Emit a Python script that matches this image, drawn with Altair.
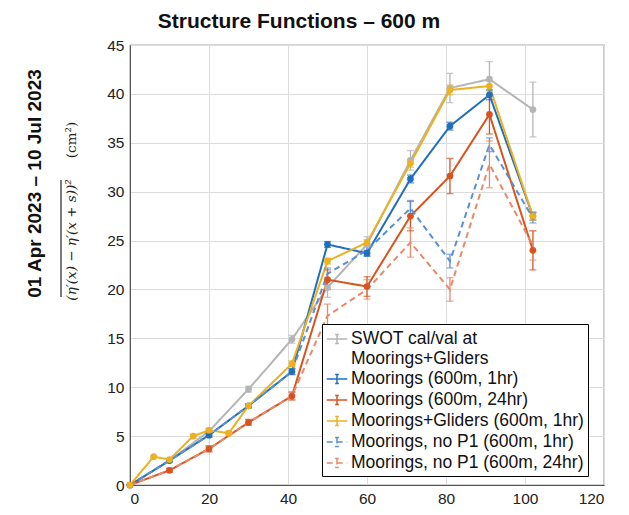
import altair as alt
import pandas as pd

# ---- data ----
x_moor = [0, 10, 20, 30, 41, 50, 60, 71, 81, 91, 102]
x_glid = [0, 6, 10, 16, 20, 25, 30, 41, 50, 60, 71, 81, 91, 102]

swot_y = [0, 2.5, 5.5, 9.8, 14.9, 20.2, 24.6, 33.2, 40.6, 41.5, 38.4]
swot_e = [0, 0.2, 0.3, 0.3, 0.4, 1.0, 0.8, 1.0, 1.5, 1.8, 2.8]

moor1_y = [0, 2.5, 5.1, 8.1, 11.6, 24.6, 23.7, 31.3, 36.7, 39.9, 27.5]
moor1_e = [0, 0.1, 0.2, 0.2, 0.3, 0.3, 0.3, 0.4, 0.4, 0.5, 0.4]

moor24_y = [0, 1.5, 3.7, 6.4, 9.1, 21.0, 20.3, 27.5, 31.6, 37.9, 24.0]
moor24_e = [0, 0.2, 0.3, 0.3, 0.4, 1.0, 1.0, 1.5, 1.8, 2.0, 2.0]

glid_y = [0, 2.9, 2.6, 5.0, 5.6, 5.3, 8.1, 12.4, 22.9, 24.8, 32.9, 40.4, 40.8, 27.5]
glid_e = [0, 0.1, 0.1, 0.2, 0.2, 0.2, 0.2, 0.3, 0.3, 0.3, 0.4, 0.5, 0.5, 0.4]

nop1_1_y = [0, 2.5, 5.1, 8.1, 11.6, 21.6, 24.0, 28.3, 22.9, 34.8, 27.3]
nop1_1_e = [0, 0.1, 0.2, 0.2, 0.3, 0.6, 0.6, 0.8, 0.7, 0.7, 0.5]

nop1_24_y = [0, 1.5, 3.7, 6.4, 9.1, 17.3, 20.0, 24.8, 20.0, 32.8, 24.5]
nop1_24_e = [0, 0.2, 0.3, 0.3, 0.4, 1.2, 1.0, 1.5, 1.2, 2.4, 1.5]

names = [
    "SWOT cal/val at|Moorings+Gliders",
    "Moorings (600m, 1hr)",
    "Moorings (600m, 24hr)",
    "Moorings+Gliders (600m, 1hr)",
    "Moorings, no P1 (600m, 1hr)",
    "Moorings, no P1 (600m, 24hr)",
]
colors = ["#b5b5b5", "#1f6fbf", "#d9531e", "#edb120", "#5b8fd6", "#e8896a"]
dashes = [[1, 0], [1, 0], [1, 0], [1, 0], [6, 4], [6, 4]]
has_marker = [True, True, True, True, False, False]

series = [
    (names[0], x_moor, swot_y, swot_e),
    (names[1], x_moor, moor1_y, moor1_e),
    (names[2], x_moor, moor24_y, moor24_e),
    (names[3], x_glid, glid_y, glid_e),
    (names[4], x_moor, nop1_1_y, nop1_1_e),
    (names[5], x_moor, nop1_24_y, nop1_24_e),
]

rows = []
for k, (nm, xs, ys, es) in enumerate(series):
    for i, (xv, yv, ev) in enumerate(zip(xs, ys, es)):
        rows.append({"series": nm, "order": k, "x": xv, "y": yv,
                     "lo": yv - ev, "hi": yv + ev, "marker": has_marker[k]})
df = pd.DataFrame(rows)

xscale = alt.Scale(domain=[0, 120], nice=False)
yscale = alt.Scale(domain=[0, 45], nice=False)
cscale = alt.Scale(domain=names, range=colors)
dscale = alt.Scale(domain=names, range=dashes)

sym_path = "M-1,0L1,0M0,-0.45L0,0.45M-0.18,-0.45L0.18,-0.45M-0.18,0.45L0.18,0.45"

legend = alt.Legend(
    title=None, orient="none", legendX=192, legendY=279,
    fillColor="white", strokeColor="black", padding=4,
    labelFont="Liberation Sans", labelFontSize=17.5, labelColor="#111",
    labelLimit=400, symbolType=sym_path, symbolSize=420,
    symbolStrokeWidth=1.5, rowPadding=1, offset=0, labelOffset=3,
    labelExpr="split(datum.label, '|')",
)

xenc = alt.X("x:Q", scale=xscale,
             axis=alt.Axis(values=[0, 20, 40, 60, 80, 100, 120], title=None,
                           labelFontSize=15.5, labelFont="Liberation Sans",
                           labelColor="#222", ticks=False, domainColor="#555",
                           gridColor="#dcdcdc", labelPadding=6))
yenc = alt.Y("y:Q", scale=yscale,
             axis=alt.Axis(values=list(range(0, 46, 5)),
                           title="01 Apr 2023 \u2013 10 Jul 2023",
                           titleFontSize=19, titleFont="Liberation Sans",
                           titleFontWeight="bold", titleColor="#111",
                           titleX=-96, titleY=138, titleAngle=270,
                           titleAlign="center", titleBaseline="middle",
                           labelFontSize=15.5, labelFont="Liberation Sans",
                           labelColor="#222", ticks=False, domainColor="#555",
                           gridColor="#dcdcdc", labelPadding=6))

base = alt.Chart(df)

lines = base.mark_line(strokeWidth=2).encode(
    x=xenc, y=yenc,
    color=alt.Color("series:N", scale=cscale, legend=legend, sort=names),
    strokeDash=alt.StrokeDash("series:N", scale=dscale, legend=legend, sort=names),
    order="x:Q",
)

bars = base.mark_rule(strokeWidth=1.3).encode(
    x="x:Q", y="lo:Q", y2="hi:Q",
    color=alt.Color("series:N", scale=cscale, legend=None),
)
cap_lo = base.mark_tick(orient="horizontal", size=7, thickness=1.3).encode(
    x="x:Q", y="lo:Q", color=alt.Color("series:N", scale=cscale, legend=None),
)
cap_hi = base.mark_tick(orient="horizontal", size=7, thickness=1.3).encode(
    x="x:Q", y="hi:Q", color=alt.Color("series:N", scale=cscale, legend=None),
)
pts = base.transform_filter("datum.marker").mark_circle(size=45, opacity=1).encode(
    x="x:Q", y="y:Q", color=alt.Color("series:N", scale=cscale, legend=None),
)

formula = alt.Chart(pd.DataFrame({"t": ["(\u03b7\u2032(x) \u2212 \u03b7\u2032(x + s))\u00b2"]})).mark_text(
    angle=270, font="DejaVu Serif", fontStyle="italic", fontSize=13.5, color="#222",
    align="center", baseline="middle").encode(
    text="t:N", x=alt.value(-58), y=alt.value(195))
unit = alt.Chart(pd.DataFrame({"t": ["(cm\u00b2)"]})).mark_text(
    angle=270, font="DejaVu Serif", fontSize=13.5, color="#222",
    align="center", baseline="middle").encode(
    text="t:N", x=alt.value(-58), y=alt.value(95))
overline = alt.Chart(pd.DataFrame({"a": [0]})).mark_rule(color="#222", strokeWidth=1.2).encode(
    x=alt.value(-69), y=alt.value(135), y2=alt.value(252))

chart = alt.layer(lines, bars, cap_lo, cap_hi, pts, formula, unit, overline).properties(
    width=474, height=440,
    title=alt.TitleParams("Structure Functions \u2013 600 m", fontSize=21,
                          font="Liberation Sans", fontWeight="bold", color="#111",
                          dx=-68, offset=6),
    autosize=alt.AutoSizeParams(type="none"),
    padding={"left": 122, "top": 37, "right": 17, "bottom": 22},
).configure_view(stroke="#555", strokeWidth=1.2)

chart.save("out.html", embed_options={"renderer": "svg", "actions": False})
